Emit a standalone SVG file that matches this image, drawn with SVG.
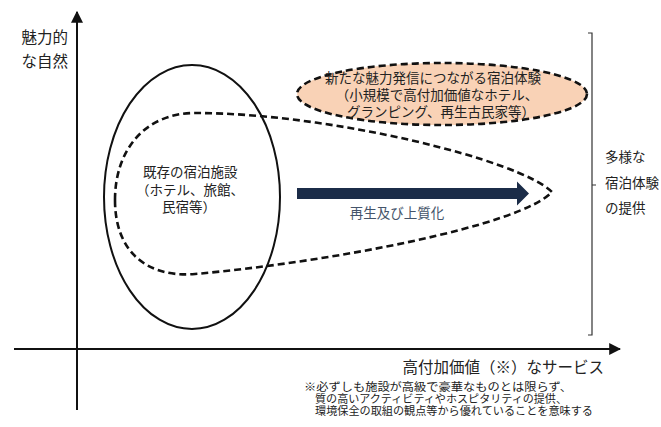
<svg xmlns="http://www.w3.org/2000/svg" width="661" height="427" viewBox="0 0 661 427">
<style>
text{font-family:"Noto Sans CJK JP","Noto Sans",sans-serif;fill:#222}
.axis{stroke:#111;stroke-width:2;fill:none}
.dash{stroke:#111;stroke-width:2.6;fill:none;stroke-dasharray:7 4}
.t14{font-size:13.5px}
.foot{font-size:10.8px}
</style>
<defs>
<marker id="ah" viewBox="0 0 10 10" refX="9" refY="5" markerWidth="6" markerHeight="6" orient="auto" markerUnits="strokeWidth">
<path d="M0,0 L10,5 L0,10 Z" fill="#111"/>
</marker>
</defs>
<rect width="661" height="427" fill="#fff"/>
<g id="connectors">
<line class="axis" x1="77" y1="410" x2="77" y2="12" marker-end="url(#ah)"/>
<line class="axis" x1="14" y1="349" x2="620" y2="349" marker-end="url(#ah)"/>
<path id="upgrade-arrow" d="M297,188 H517 V181.5 L529,193.5 L517,205.5 V199 H297 Z" fill="#1b2c48"/>
</g>
<g id="axis-labels">
<text x="68" y="43" text-anchor="end" style="font-size:15.5px">魅力的</text>
<text x="68" y="67" text-anchor="end" style="font-size:15.5px">な自然</text>
<text x="604" y="373" text-anchor="end" style="font-size:15.5px">高付加価値（※）なサービス</text>
</g>
<g id="existing">
<ellipse cx="192" cy="197" rx="88" ry="132" fill="none" stroke="#111" stroke-width="2"/>
<text class="t14" x="143" y="177">既存の宿泊施設</text>
<text class="t14" x="136" y="194.5">（ホテル、旅館、</text>
<text class="t14" x="162" y="212">民宿等）</text>
</g>
<g id="diverse-range">
<path class="dash" d="M115,200 C115,150 145,113 195,113 C330,113 520,160 552,192 C520,226 330,262 195,274 C145,278 115,250 115,200 Z"/>
</g>
<g id="new-experience">
<ellipse cx="442" cy="94" rx="145" ry="31" fill="#f9d2b6" stroke="#111" stroke-width="2.6" stroke-dasharray="7 4"/>
<text x="433" y="83" text-anchor="middle" style="font-size:13.5px">新たな魅力発信につながる宿泊体験</text>
<text x="437" y="100" text-anchor="middle" style="font-size:13.5px">（小規模で高付加価値なホテル、</text>
<text x="441" y="117" text-anchor="middle" style="font-size:13.5px">グランピング、再生古民家等）</text>
</g>
<g id="upgrade-label">
<text x="397" y="218" text-anchor="middle" style="font-size:13.5px;fill:#44546a">再生及び上質化</text>
</g>
<g id="bracket">
<path d="M588,33 H592 V335 H588 M592,185 H596" fill="none" stroke="#333" stroke-width="1.2"/>
<text class="t14" x="605" y="162">多様な</text>
<text class="t14" x="605" y="188">宿泊体験</text>
<text class="t14" x="605" y="213">の提供</text>
</g>
<g id="footnote">
<text class="foot" x="304" y="391" textLength="268" lengthAdjust="spacingAndGlyphs">※必ずしも施設が高級で豪華なものとは限らず、</text>
<text class="foot" x="315" y="403" textLength="252" lengthAdjust="spacingAndGlyphs">質の高いアクティビティやホスピタリティの提供、</text>
<text class="foot" x="315" y="415" textLength="278" lengthAdjust="spacingAndGlyphs">環境保全の取組の観点等から優れていることを意味する</text>
</g>
</svg>
